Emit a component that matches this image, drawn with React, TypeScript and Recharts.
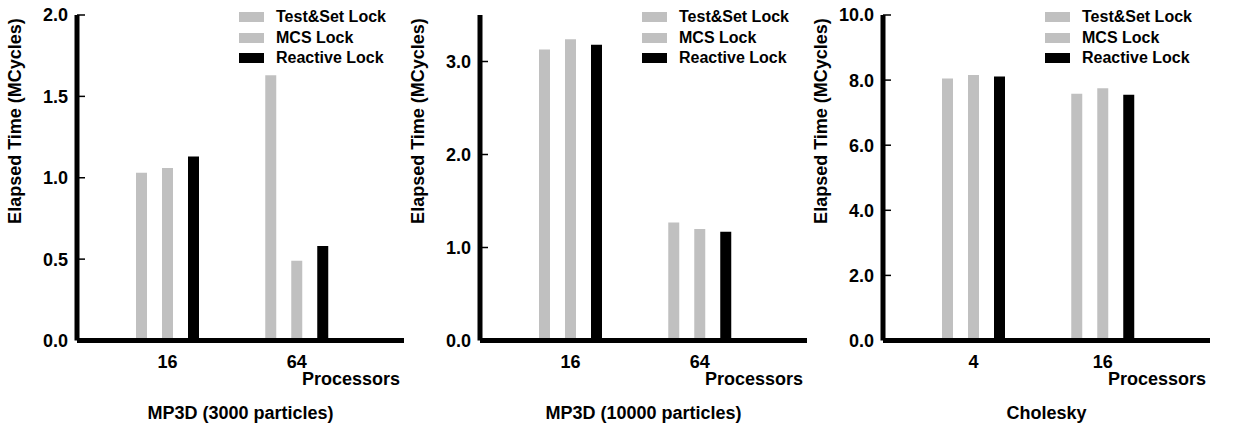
import React from 'react';
import { BarChart, Bar, XAxis, YAxis, Legend, Label } from 'recharts';

// ---- Data ----
const seriesNames = ['Test&Set Lock', 'MCS Lock', 'Reactive Lock'];
const seriesColors = ['#c0c0c0', '#c0c0c0', '#000000'];

const mp3dSmallProcs = ['16', '64'];
const mp3dSmallTestSet = [1.03, 1.63];
const mp3dSmallMCS = [1.06, 0.49];
const mp3dSmallReactive = [1.13, 0.58];
const mp3dSmallTicks = [0, 0.5, 1.0, 1.5, 2.0];

const mp3dLargeProcs = ['16', '64'];
const mp3dLargeTestSet = [3.13, 1.27];
const mp3dLargeMCS = [3.24, 1.2];
const mp3dLargeReactive = [3.18, 1.17];
const mp3dLargeTicks = [0, 1.0, 2.0, 3.0];

const choleskyProcs = ['4', '16'];
const choleskyTestSet = [8.05, 7.58];
const choleskyMCS = [8.16, 7.75];
const choleskyReactive = [8.11, 7.55];
const choleskyTicks = [0, 2.0, 4.0, 6.0, 8.0, 10.0];

const titles = ['MP3D (3000 particles)', 'MP3D (10000 particles)', 'Cholesky'];
const yLabel = 'Elapsed Time (MCycles)';
const xLabel = 'Processors';

const FONT = "'Liberation Sans', Arial, Helvetica, sans-serif";

function buildRows(procs: string[], ts: number[], mcs: number[], re: number[]) {
  return procs.map((p, i) => ({ proc: p, ts: ts[i], mcs: mcs[i], re: re[i] }));
}

const YTick = (props: any) => {
  const { x, y, payload } = props;
  return (
    <g>
      <line x1={x + 9} x2={x + 17} y1={y} y2={y} stroke="#000" strokeWidth={1.5} />
      <text x={x} y={y} dy="0.36em" textAnchor="end" fontFamily={FONT} fontWeight="bold" fontSize={18} fill="#000">
        {Number(payload.value).toFixed(1)}
      </text>
    </g>
  );
};

const LegendContent = (props: any) => {
  const items = [...(props.payload || [])].sort(
    (a: any, b: any) => seriesNames.indexOf(a.value) - seriesNames.indexOf(b.value)
  );
  return (
    <div style={{ fontFamily: FONT, fontWeight: 'bold', fontSize: 16, color: '#000' }}>
      {items.map((e: any) => (
        <div key={e.value} style={{ display: 'flex', alignItems: 'center', height: 20.5, whiteSpace: 'nowrap' }}>
          <span style={{ display: 'inline-block', width: 25, height: 10, background: e.color, marginRight: 12 }} />
          <span>{e.value}</span>
        </div>
      ))}
    </div>
  );
};

type PanelProps = {
  rows: any[];
  domain: [number, number];
  ticks: number[];
  title: string;
  left: number;
};

const Panel = ({ rows, domain, ticks, title, left }: PanelProps) => (
  <div style={{ position: 'absolute', left, top: 0, width: 410, height: 426 }}>
    <BarChart
      width={410}
      height={426}
      data={rows}
      margin={{ top: 15, right: 6, bottom: 25.5, left: 0 }}
      barSize={11}
      barGap={15}
    >
      <Legend
        layout="vertical"
        align="center"
        verticalAlign="middle"
        itemSorter={null as any}
        content={<LegendContent />}
        wrapperStyle={{ top: 7, left: 239, width: 'auto' }}
      />
      <Bar dataKey="ts" name={seriesNames[0]} fill={seriesColors[0]} isAnimationActive={false} />
      <Bar dataKey="mcs" name={seriesNames[1]} fill={seriesColors[1]} isAnimationActive={false} />
      <Bar dataKey="re" name={seriesNames[2]} fill={seriesColors[2]} isAnimationActive={false} />
      <XAxis
        dataKey="proc"
        height={60}
        padding={{ left: 26, right: 42.5 }}
        axisLine={{ stroke: '#000', strokeWidth: 5 }}
        tickLine={false}
        tickSize={0}
        tickMargin={15}
        tick={{ fontFamily: FONT, fontWeight: 'bold', fontSize: 18, fill: '#000' }}
      >
        <Label
          content={(p: any) => {
            const vb = p.viewBox || { x: 77, y: 340.5, width: 327 };
            return (
              <g>
                <text x={vb.x + vb.width - 4} y={vb.y + 44} textAnchor="end" fontFamily={FONT} fontWeight="bold" fontSize={18} fill="#000">
                  {xLabel}
                </text>
                <text x={vb.x + vb.width / 2} y={vb.y + 78} textAnchor="middle" fontFamily={FONT} fontWeight="bold" fontSize={18} fill="#000">
                  {title}
                </text>
              </g>
            );
          }}
        />
      </XAxis>
      <YAxis
        width={77}
        domain={domain}
        ticks={ticks}
        allowDataOverflow
        axisLine={{ stroke: '#000', strokeWidth: 5 }}
        tickLine={false}
        tickSize={0}
        tickMargin={9}
        tick={<YTick />}
      >
        <Label
          content={(p: any) => {
            const vb = p.viewBox || { x: 0, y: 15 };
            const cx = vb.x + 21;
            const cy = vb.y + 106;
            return (
              <text x={cx} y={cy} transform={`rotate(-90 ${cx} ${cy})`} textAnchor="middle" fontFamily={FONT} fontWeight="bold" fontSize={18} fill="#000">
                {yLabel}
              </text>
            );
          }}
        />
      </YAxis>
    </BarChart>
  </div>
);

export default function App() {
  return (
    <div style={{ position: 'absolute', left: 0, top: 0, width: 1235, height: 426, background: '#fff' }}>
      <Panel
        rows={buildRows(mp3dSmallProcs, mp3dSmallTestSet, mp3dSmallMCS, mp3dSmallReactive)}
        domain={[0, 2]}
        ticks={mp3dSmallTicks}
        title={titles[0]}
        left={0}
      />
      <Panel
        rows={buildRows(mp3dLargeProcs, mp3dLargeTestSet, mp3dLargeMCS, mp3dLargeReactive)}
        domain={[0, 3.5]}
        ticks={mp3dLargeTicks}
        title={titles[1]}
        left={403}
      />
      <Panel
        rows={buildRows(choleskyProcs, choleskyTestSet, choleskyMCS, choleskyReactive)}
        domain={[0, 10]}
        ticks={choleskyTicks}
        title={titles[2]}
        left={806}
      />
    </div>
  );
}
